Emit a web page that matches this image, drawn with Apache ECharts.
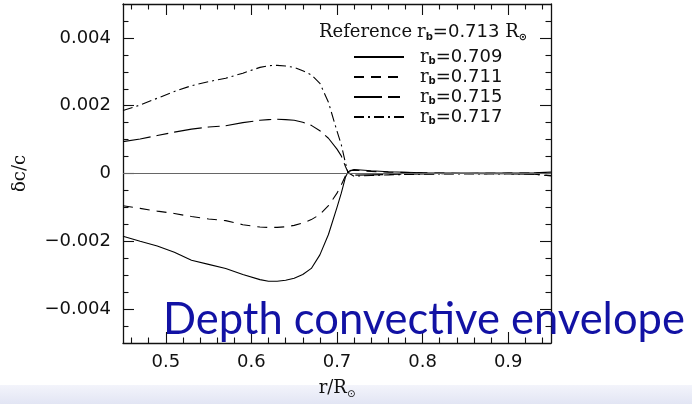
<!DOCTYPE html>
<html>
<head>
<meta charset="utf-8">
<script src="https://cdn.jsdelivr.net/npm/echarts@6/dist/echarts.min.js"></script>
<style>html,body{margin:0;padding:0;background:#fff}#c{width:692px;height:404px}</style>
</head>
<body>
<div id="c"></div>
<script>
// ---- data ----
const radius = [0.45,0.47,0.49,0.51,0.53,0.55,0.57,0.59,0.61,0.62,0.63,0.64,0.65,0.66,0.67,0.68,0.69,0.70,0.705,0.71,0.713,0.72,0.74,0.76,0.80,0.85,0.90,0.93,0.95];
const rb0709 = [-0.00185,-0.00200,-0.00214,-0.00232,-0.00256,-0.00268,-0.00280,-0.00298,-0.00313,-0.00318,-0.00318,-0.00315,-0.00309,-0.00298,-0.00280,-0.00240,-0.00180,-0.00100,-0.00058,-0.00010,0.00005,0.00012,0.00008,0.00005,0.00002,0.00001,0.00001,0.00002,0.00004];
const rb0711 = [-0.00095,-0.00103,-0.00111,-0.00118,-0.00127,-0.00134,-0.00139,-0.00151,-0.00158,-0.00159,-0.00159,-0.00157,-0.00153,-0.00146,-0.00136,-0.00121,-0.00095,-0.00058,-0.00034,-0.00006,0.00008,0.00010,0.00006,0.00004,0.00002,0.00000,0.00001,0.00001,0.00003];
const rb0715 = [0.00094,0.00102,0.00112,0.00122,0.00131,0.00137,0.00141,0.00150,0.00157,0.00159,0.00160,0.00159,0.00157,0.00151,0.00142,0.00126,0.00104,0.00072,0.00052,0.00020,0.00003,-0.00005,-0.00004,-0.00003,-0.00001,0.00000,-0.00001,-0.00002,-0.00006];
const rb0717 = [0.00186,0.00202,0.00222,0.00242,0.00259,0.00271,0.00281,0.00296,0.00313,0.00318,0.00319,0.00317,0.00313,0.00303,0.00291,0.00266,0.00210,0.00125,0.00085,0.00030,0.00002,-0.00008,-0.00006,-0.00004,-0.00002,-0.00001,-0.00001,-0.00002,-0.00007];
const seriesNames = ['0.709','0.711','0.715','0.717'];
const referenceValue = '0.713';
const xMajorTicks = [0.5,0.6,0.7,0.8,0.9];
const xMinorTicks = [0.46,0.48,0.52,0.54,0.56,0.58,0.62,0.64,0.66,0.68,0.72,0.74,0.76,0.78,0.82,0.84,0.86,0.88,0.92,0.94];
const yMajorTicks = [-0.004,-0.002,0,0.002,0.004];
const yMinorTicks = [-0.0045,-0.0035,-0.003,-0.0025,-0.0015,-0.001,-0.0005,0.0005,0.001,0.0015,0.0025,0.003,0.0035,0.0045];
const overlayText = 'Depth convective envelope';

// ---- chart ----
const chart = echarts.init(document.getElementById('c'), null, {renderer: 'canvas'});
const INK = '#111';
const numFont = 'DejaVu Sans';
const serif = 'DejaVu Serif';
const pairs = ys => radius.map((x, i) => [x, ys[i]]);
const dashes = [null, [10, 7], [28, 6, 12, 6], [10, 4, 2, 4]];
const values = [rb0709, rb0711, rb0715, rb0717];

function xAxisDef(pos, ticks, len, withLabel, withLine) {
  return {
    type: 'value', position: pos, min: 0.45, max: 0.95,
    splitLine: {show: false},
    axisLine: {show: withLine, onZero: false, lineStyle: {color: INK, width: 1.3}},
    axisTick: {show: true, inside: true, length: len, customValues: ticks, lineStyle: {color: INK, width: 1.1}},
    axisLabel: withLabel ? {show: true, customValues: xMajorTicks, margin: 10, color: INK, fontFamily: numFont, fontSize: 18,
      formatter: v => v.toFixed(1)} : {show: false},
    name: withLabel ? '{a|r/R}{s|⊙}' : '', nameLocation: 'middle', nameGap: 34,
    nameTextStyle: {rich: {a: {fontFamily: serif, fontSize: 18, color: INK, lineHeight: 22},
      s: {fontFamily: numFont, fontSize: 10, color: INK, lineHeight: 8, verticalAlign: 'bottom'}}}
  };
}
function yAxisDef(pos, ticks, len, withLabel, withLine) {
  return {
    type: 'value', position: pos, min: -0.005, max: 0.005,
    splitLine: {show: false},
    axisLine: {show: withLine, onZero: false, lineStyle: {color: INK, width: 1.3}},
    axisTick: {show: true, inside: true, length: len, customValues: ticks, lineStyle: {color: INK, width: 1.1}},
    axisLabel: withLabel ? {show: true, customValues: yMajorTicks, margin: 12, color: INK, fontFamily: numFont, fontSize: 18,
      formatter: v => Math.abs(v) < 1e-9 ? '0' : (v < 0 ? '\u2212' : '') + Math.abs(v).toFixed(3)} : {show: false},
    name: withLabel ? 'δc/c' : '', nameLocation: 'middle', nameGap: 94,
    nameTextStyle: {fontFamily: serif, fontSize: 18, color: INK}
  };
}

const richLegend = {
  g: {width: 11},
  r: {fontFamily: serif, fontSize: 18, fontWeight: 'normal', color: INK, lineHeight: 18},
  s: {fontFamily: numFont, fontSize: 10, fontWeight: 'bold', color: INK, lineHeight: 6, verticalAlign: 'bottom'},
  n: {fontFamily: numFont, fontSize: 18, fontWeight: 'normal', color: INK, lineHeight: 18}
};

chart.setOption({
  animation: false,
  backgroundColor: '#fff',
  grid: {left: 123, right: 141, top: 4, bottom: 56, containLabel: false},
  title: {
    left: 319, top: 22, padding: 0,
    text: '{t|Reference} {r|r}{s|b}{n|=' + referenceValue + ' }{r|R}{s|⊙}',
    textStyle: {fontWeight: 'normal', rich: {
      t: {fontFamily: serif, fontSize: 18, fontWeight: 'normal', color: INK, lineHeight: 20},
      r: {fontFamily: serif, fontSize: 18, fontWeight: 'normal', color: INK, lineHeight: 20},
      s: {fontFamily: numFont, fontSize: 10, fontWeight: 'bold', color: INK, lineHeight: 6, verticalAlign: 'bottom'},
      n: {fontFamily: numFont, fontSize: 18, fontWeight: 'normal', color: INK, lineHeight: 20}
    }}
  },
  legend: {
    orient: 'vertical', left: 353, top: 48, padding: 0,
    itemWidth: 50, itemHeight: 14, itemGap: 2,
    data: seriesNames,
    itemStyle: {opacity: 0},
    formatter: n => '{g|}{r|r}{s|b}{n|=' + n + '}',
    textStyle: {rich: richLegend},
    selectedMode: false
  },
  xAxis: [
    xAxisDef('bottom', xMajorTicks, 11, true, true),
    xAxisDef('bottom', xMinorTicks, 5.5, false, false),
    xAxisDef('top', xMajorTicks, 11, false, true),
    xAxisDef('top', xMinorTicks, 5.5, false, false)
  ],
  yAxis: [
    yAxisDef('left', yMajorTicks, 11, true, true),
    yAxisDef('left', yMinorTicks, 5.5, false, false),
    yAxisDef('right', yMajorTicks, 11, false, true),
    yAxisDef('right', yMinorTicks, 5.5, false, false)
  ],
  series: seriesNames.map((name, i) => ({
    name: name, type: 'line', xAxisIndex: 0, yAxisIndex: 0,
    data: pairs(values[i]), symbol: 'none', showSymbol: false, smooth: false,
    lineStyle: {color: '#000', width: 1.1, type: dashes[i] || 'solid'},
    itemStyle: {color: '#000'},
    markLine: i === 0 ? {silent: true, symbol: 'none', label: {show: false},
      lineStyle: {color: '#666', width: 1, type: 'solid'}, data: [{yAxis: 0}]} : undefined
  })),
  graphic: [
    {type: 'rect', z: -10, shape: {x: 0, y: 385, width: 692, height: 19},
      style: {fill: new echarts.graphic.LinearGradient(0, 0, 0, 1, [{offset: 0, color: '#f3f4fb'}, {offset: 1, color: '#e2e5f4'}])}},
    {type: 'text', z: 100, left: 163, top: 298,
      style: {text: overlayText, fill: '#1212a4', font: '43.5px Lato'}}
  ]
});
</script>
</body>
</html>
